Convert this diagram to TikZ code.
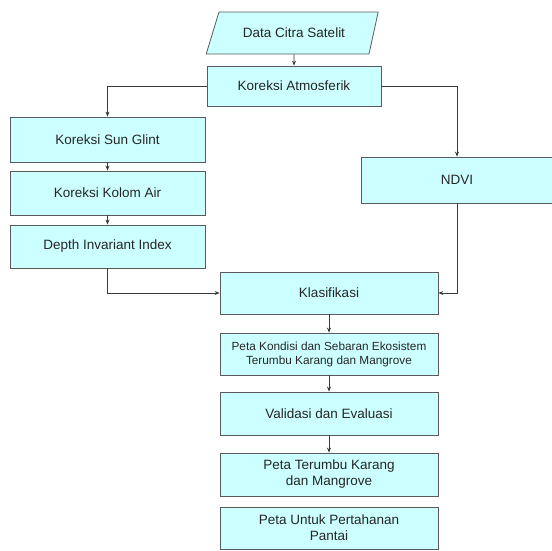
\documentclass[tikz,border=0pt]{standalone}
\usepackage{fontspec}
\setmainfont{Liberation Sans}
\usetikzlibrary{shapes.geometric,arrows.meta}
\definecolor{boxfill}{HTML}{CCFFFF}
\definecolor{boxline}{HTML}{5A5A5A}
\definecolor{lineclr}{HTML}{3A3A3A}
\begin{document}
\begin{tikzpicture}[x=1pt,y=-1pt,
    kotak/.style={draw=boxline,fill=boxfill,line width=0.8pt,align=center,
        font=\fontsize{13.5}{16}\selectfont,text=black!85,inner sep=2pt},
    jajar/.style={kotak,trapezium,trapezium left angle=57,trapezium right angle=115,
        trapezium stretches=true,minimum width=172,minimum height=42},
    panah/.style={draw=lineclr,line width=0.7pt,-{Stealth[length=5pt,width=4pt]}}]
\useasboundingbox (0,0) rectangle (552,550);
\node[jajar] (data) at (294,33) {Data Citra Satelit};
\node[kotak,minimum width=174,minimum height=40] (atmos) at (294,86) {Koreksi Atmosferik};
\node[kotak,minimum width=195,minimum height=45] (glint) at (107.5,139.5) {Koreksi Sun Glint};
\node[kotak,minimum width=195,minimum height=44] (kolom) at (107.5,193) {Koreksi Kolom Air};
\node[kotak,minimum width=195,minimum height=43] (depth) at (107.5,246.5) {Depth Invariant Index};
\node[kotak,minimum width=192,minimum height=46] (ndvi) at (457,180) {NDVI};
\node[kotak,minimum width=218,minimum height=42] (klas) at (329,293) {Klasifikasi};
\node[kotak,minimum width=218,minimum height=42,font=\fontsize{11.8}{14}\selectfont] (kondisi) at (329,354)
    {Peta Kondisi dan Sebaran Ekosistem\\Terumbu Karang dan Mangrove};
\node[kotak,minimum width=218,minimum height=43] (valid) at (329,413.5) {Validasi dan Evaluasi};
\node[kotak,minimum width=218,minimum height=43] (terumbu) at (329,474.5) {Peta Terumbu Karang\\dan Mangrove};
\node[kotak,minimum width=218,minimum height=42] (pantai) at (329,528) {Peta Untuk Pertahanan\\Pantai};
\draw[panah] (data) -- (atmos);
\draw[panah] (atmos.west) -| (glint.north);
\draw[panah] (atmos.east) -| (ndvi.north);
\draw[panah] (glint) -- (kolom);
\draw[panah] (kolom) -- (depth);
\draw[panah] (depth.south) |- (klas.west);
\draw[panah] (ndvi.south) |- (klas.east);
\draw[panah] (klas) -- (kondisi);
\draw[panah] (kondisi) -- (valid);
\draw[panah] (valid) -- (terumbu);
\end{tikzpicture}
\end{document}
